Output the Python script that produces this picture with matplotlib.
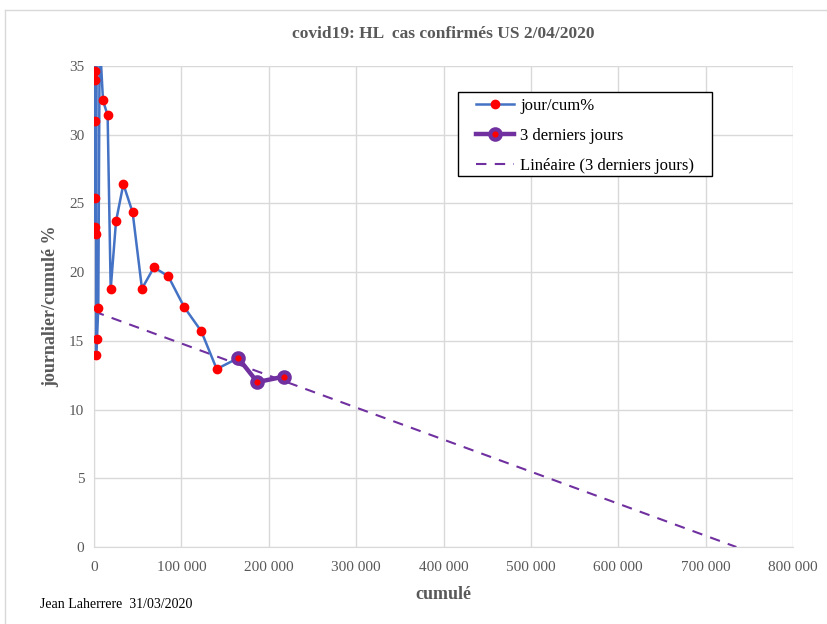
import matplotlib
matplotlib.use("Agg")
import matplotlib.pyplot as plt
import numpy as np
from matplotlib.ticker import FuncFormatter, MultipleLocator
from matplotlib.lines import Line2D
from matplotlib.patches import Rectangle

# ---- data ----
cumul = [500, 700, 900, 1100, 1250, 1400, 1600, 800, 1300, 1600, 1900, 2600, 2300, 3400, 4900,
         6500, 10300, 15600, 19100, 25200, 33600, 44200, 54900, 68600, 85000,
         103300, 122800, 140400, 165100, 186900, 217400]
pct = [100, 50, 60, 34.6, 45, 34.0, 40, 31.0, 25.4, 23.3, 22.8, 38, 14.0, 15.1, 17.4,
       37, 32.5, 31.4, 18.75, 23.7, 26.4, 24.35, 18.8, 20.35, 19.7,
       17.45, 15.7, 12.95, 13.75, 12.0, 12.4]
last_cumul = [165100, 186900, 217400]
last_pct = [13.75, 12.0, 12.4]

title = "covid19: HL  cas confirmés US 2/04/2020"
xlabel = "cumulé"
ylabel = "journalier/cumulé %"
credit = "Jean Laherrere  31/03/2020"
legend_labels = ["jour/cum%", "3 derniers jours", "Linéaire (3 derniers jours)"]

plt.rcParams['font.family'] = ['Liberation Serif', 'DejaVu Serif']

fig = plt.figure(figsize=(8.28, 6.24), dpi=100)
ax = fig.add_axes([94/828, 1-547/624, (793-94)/828, (547-66)/624])

blue = "#4472C4"
purple = "#7030A0"
gray = "#595959"
grid = "#d9d9d9"

l1, = ax.plot(cumul, pct, color=blue, lw=1.8, marker='o', ms=6,
              mfc='red', mec='red', zorder=3)
l2, = ax.plot(last_cumul, last_pct, color=purple, lw=3.2, marker='o', ms=7.5,
              mfc='red', mec=purple, mew=3, zorder=4)
a, b = np.polyfit(last_cumul, last_pct, 1)
xt = np.array([0, -b / a])
l3, = ax.plot(xt, a * xt + b, color=purple, lw=1.5, ls=(0, (5, 4)), zorder=2)

ax.set_xlim(0, 800000)
ax.set_ylim(0, 35)
ax.xaxis.set_major_locator(MultipleLocator(100000))
ax.yaxis.set_major_locator(MultipleLocator(5))
ax.xaxis.set_major_formatter(FuncFormatter(lambda v, p: f"{int(v):,}".replace(",", " ")))
ax.grid(True, color=grid, lw=1)
ax.set_axisbelow(True)
for s in ["top", "right"]:
    ax.spines[s].set_visible(False)
for s in ["left", "bottom"]:
    ax.spines[s].set_color(grid)
ax.tick_params(axis='x', length=0, colors=gray, labelsize=11, pad=10)
ax.tick_params(axis='y', length=0, colors=gray, labelsize=11, pad=7)

ax.set_title(title, fontsize=12.5, fontweight='bold', color=gray, pad=20)
ax.set_xlabel(xlabel, fontsize=13, fontweight='bold', color=gray, labelpad=9)
ax.set_ylabel(ylabel, fontsize=13, fontweight='bold', color=gray, labelpad=7)

# legend frame and legend
ax.add_patch(Rectangle((364/699, 371/481), 254/699, 84/481, transform=ax.transAxes,
                       facecolor='white', edgecolor='black', lw=1.0, zorder=9))
leg = ax.legend([l1, l2, l3], legend_labels, loc='upper left',
                bbox_to_anchor=(382/699, 449/481), fontsize=12, frameon=False,
                handlelength=2.3, borderpad=0, labelspacing=0.84,
                borderaxespad=0, handletextpad=0.35)
leg.set_zorder(10)

fig.text(40/828, 1-604/624, credit, fontsize=10, color='black', va='center')

# chart border
fig.add_artist(Line2D([5/828, 1], [1-10/624, 1-10/624], color=grid, lw=1, transform=fig.transFigure))
fig.add_artist(Line2D([5/828, 5/828], [0, 1-10/624], color=grid, lw=1, transform=fig.transFigure))

fig.savefig("out.png", dpi=100)
